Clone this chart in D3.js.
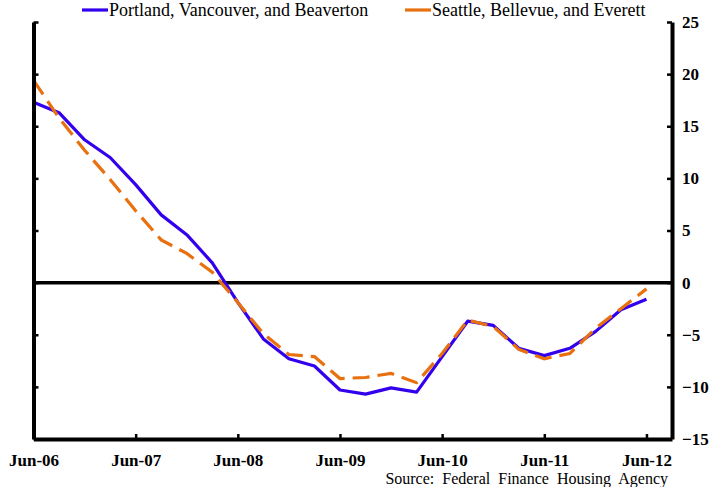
<!DOCTYPE html>
<html>
<head>
<meta charset="utf-8">
<script src="https://cdn.jsdelivr.net/npm/d3@7"></script>
<style>
  body { margin: 0; background: #fff; }
  svg { display: block; }
  .axis path, .axis line { stroke: #000; }
  .axis text { font-family: "Liberation Serif", "Times New Roman", serif; font-weight: bold; font-size: 17px; fill: #000; }
</style>
</head>
<body>
<svg width="718" height="487"></svg>
<script>
// quarterly, Jun-06 .. Jun-12
const quarters = ['Jun-06','Sep-06','Dec-06','Mar-07','Jun-07','Sep-07','Dec-07','Mar-08','Jun-08',
  'Sep-08','Dec-08','Mar-09','Jun-09','Sep-09','Dec-09','Mar-10','Jun-10','Sep-10','Dec-10',
  'Mar-11','Jun-11','Sep-11','Dec-11','Mar-12','Jun-12'];
const portland = [17.3, 16.3, 13.7, 12.0, 9.4, 6.5, 4.6, 1.9, -1.9, -5.4, -7.3, -8.0, -10.3,
  -10.7, -10.1, -10.5, -7.1, -3.7, -4.1, -6.3, -7.0, -6.3, -4.7, -2.6, -1.6];
const seattle = [19.4, 15.8, 12.7, 9.9, 6.9, 4.1, 2.8, 1.0, -1.9, -4.9, -6.9, -7.1, -9.2,
  -9.1, -8.7, -9.6, -6.8, -3.6, -4.2, -6.4, -7.3, -6.8, -4.4, -2.5, -0.6];
const yTicks = [-15, -10, -5, 0, 5, 10, 15, 20, 25];
const xTickLabels = ['Jun-06','Jun-07','Jun-08','Jun-09','Jun-10','Jun-11','Jun-12'];

const svg = d3.select('svg');
const plotLeft = 33.5, plotRight = 672, plotTop = 22, plotBottom = 439;

const x = d3.scaleLinear().domain([0, quarters.length]).range([plotLeft, plotRight]);
const y = d3.scaleLinear().domain([-15, 25]).range([plotBottom, plotTop]);

// zero line
svg.append('line')
    .attr('x1', plotLeft).attr('x2', plotRight)
    .attr('y1', y(0)).attr('y2', y(0))
    .attr('stroke', '#000').attr('stroke-width', 3.5);

const line = d3.line()
    .x((d, i) => x(i))
    .y(d => y(d));

svg.append('path')
    .datum(portland)
    .attr('fill', 'none')
    .attr('stroke', '#3300ee')
    .attr('stroke-width', 3.2)
    .attr('stroke-linejoin', 'round')
    .attr('d', line);

svg.append('path')
    .datum(seattle)
    .attr('fill', 'none')
    .attr('stroke', '#e8700f')
    .attr('stroke-width', 3.2)
    .attr('stroke-dasharray', '17,8')
    .attr('d', line);

// left axis (ticks only)
svg.append('g')
    .attr('class', 'axis')
    .attr('transform', `translate(${plotLeft},0)`)
    .call(d3.axisRight(y).tickValues(yTicks).tickSize(5).tickSizeOuter(0).tickFormat(''))
    .call(g => g.selectAll('line').attr('stroke-width', 2.5))
    .call(g => g.select('.domain').attr('stroke-width', 4));

// right axis
svg.append('g')
    .attr('class', 'axis')
    .attr('transform', `translate(${plotRight},0)`)
    .call(d3.axisRight(y).tickValues(yTicks).tickSize(-5).tickSizeOuter(0).tickPadding(10))
    .call(g => g.selectAll('line').attr('stroke-width', 2.5))
    .call(g => g.select('.domain').attr('stroke-width', 4));

// bottom axis
const yearIdx = xTickLabels.map(l => quarters.indexOf(l));
svg.append('g')
    .attr('class', 'axis')
    .attr('transform', `translate(0,${plotBottom})`)
    .call(d3.axisBottom(x).tickValues(yearIdx).tickSize(-5).tickSizeOuter(0).tickPadding(15)
        .tickFormat(i => quarters[i]))
    .call(g => g.selectAll('line').attr('stroke-width', 2.5))
    .call(g => g.select('.domain').attr('stroke-width', 4));

// legend
const legend = [
  {name: 'Portland, Vancouver, and Beaverton', color: '#3300ee', x: 82},
  {name: 'Seattle, Bellevue, and Everett', color: '#e8700f', x: 405}
];
const lg = svg.append('g').selectAll('g').data(legend).enter().append('g')
    .attr('transform', d => `translate(${d.x},10)`);
lg.append('line').attr('x1', 0).attr('x2', 26).attr('y1', 0).attr('y2', 0)
    .attr('stroke', d => d.color).attr('stroke-width', 3.2);
lg.append('text').attr('x', 27).attr('y', 6)
    .attr('font-family', '"Liberation Serif", "Times New Roman", serif')
    .attr('font-size', 18)
    .text(d => d.name);

svg.append('text')
    .attr('x', 668).attr('y', 484)
    .attr('text-anchor', 'end')
    .attr('font-family', '"Liberation Serif", "Times New Roman", serif')
    .attr('font-size', 16)
    .attr('word-spacing', 4)
    .text('Source: Federal Finance Housing Agency');
</script>
</body>
</html>
